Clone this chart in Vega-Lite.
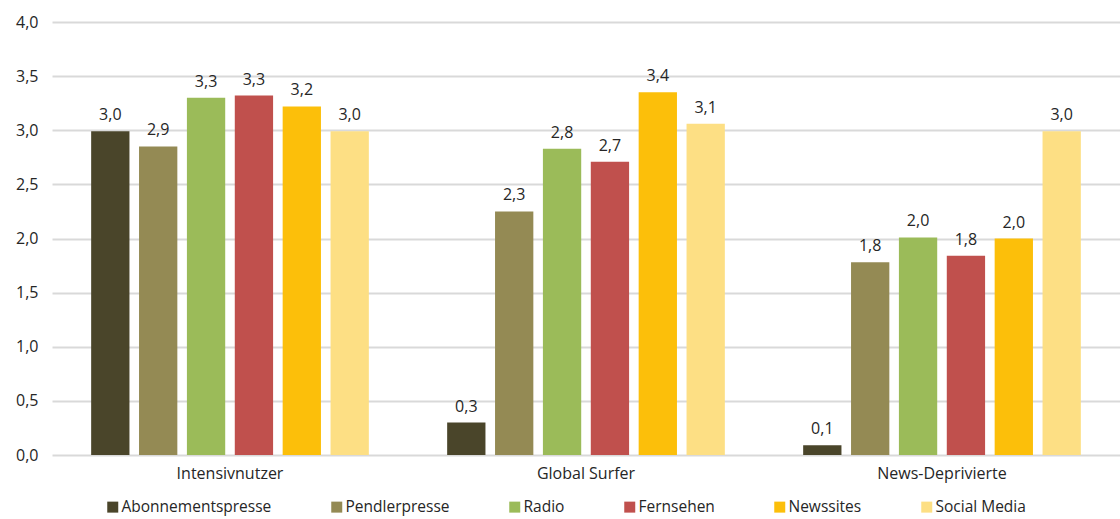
{
  "$schema": "https://vega.github.io/schema/vega-lite/v6.json",
  "width": 1068,
  "height": 433,
  "autosize": {"type": "none"},
  "padding": {"left": 52, "top": 22, "right": 0, "bottom": 64},
  "background": "white",
  "config": {
    "locale": {"number": {"decimal": ",", "thousands": ".", "grouping": [3], "currency": ["", " €"]}},
    "view": {"stroke": null},
    "font": "Open Sans",
    "text": {"font": "Open Sans"}
  },
  "data": {
    "values": [
      {"Gruppe": "Intensivnutzer", "Medium": "Abonnementspresse", "Wert": 2.99},
      {"Gruppe": "Intensivnutzer", "Medium": "Pendlerpresse", "Wert": 2.85},
      {"Gruppe": "Intensivnutzer", "Medium": "Radio", "Wert": 3.3},
      {"Gruppe": "Intensivnutzer", "Medium": "Fernsehen", "Wert": 3.32},
      {"Gruppe": "Intensivnutzer", "Medium": "Newssites", "Wert": 3.22},
      {"Gruppe": "Intensivnutzer", "Medium": "Social Media", "Wert": 2.99},
      {"Gruppe": "Global Surfer", "Medium": "Abonnementspresse", "Wert": 0.3},
      {"Gruppe": "Global Surfer", "Medium": "Pendlerpresse", "Wert": 2.25},
      {"Gruppe": "Global Surfer", "Medium": "Radio", "Wert": 2.83},
      {"Gruppe": "Global Surfer", "Medium": "Fernsehen", "Wert": 2.71},
      {"Gruppe": "Global Surfer", "Medium": "Newssites", "Wert": 3.35},
      {"Gruppe": "Global Surfer", "Medium": "Social Media", "Wert": 3.06},
      {"Gruppe": "News-Deprivierte", "Medium": "Abonnementspresse", "Wert": 0.09},
      {"Gruppe": "News-Deprivierte", "Medium": "Pendlerpresse", "Wert": 1.78},
      {"Gruppe": "News-Deprivierte", "Medium": "Radio", "Wert": 2.01},
      {"Gruppe": "News-Deprivierte", "Medium": "Fernsehen", "Wert": 1.84},
      {"Gruppe": "News-Deprivierte", "Medium": "Newssites", "Wert": 2.0},
      {"Gruppe": "News-Deprivierte", "Medium": "Social Media", "Wert": 2.99}
    ]
  },
  "encoding": {
    "x": {
      "field": "Gruppe", "type": "nominal",
      "sort": ["Intensivnutzer", "Global Surfer", "News-Deprivierte"],
      "scale": {"paddingInner": 0.22, "paddingOuter": 0.11},
      "axis": {"title": null, "labelAngle": 0, "ticks": false, "domain": false, "labelPadding": 10, "labelFontSize": 16, "labelColor": "#262626", "labelFont": "Open Sans"}
    },
    "xOffset": {
      "field": "Medium", "type": "nominal",
      "sort": ["Abonnementspresse", "Pendlerpresse", "Radio", "Fernsehen", "Newssites", "Social Media"],
      "scale": {"paddingInner": 0.2}
    },
    "y": {
      "field": "Wert", "type": "quantitative",
      "scale": {"domain": [0, 4]},
      "axis": {"title": null, "values": [0, 0.5, 1, 1.5, 2, 2.5, 3, 3.5, 4], "format": ".1f", "ticks": false, "domain": false, "gridColor": "#d9d9d9", "gridWidth": 2, "labelPadding": 14, "labelFontSize": 16, "labelColor": "#262626", "labelFont": "Open Sans"}
    }
  },
  "layer": [
    {
      "mark": {"type": "bar"},
      "encoding": {
        "color": {
          "field": "Medium", "type": "nominal",
          "sort": ["Abonnementspresse", "Pendlerpresse", "Radio", "Fernsehen", "Newssites", "Social Media"],
          "scale": {"range": ["#4a452a", "#948a54", "#9bbb59", "#c0504d", "#fcbf0a", "#fddf84"]},
          "legend": {
            "title": null, "orient": "none", "direction": "horizontal", "legendX": 53, "legendY": 477,
            "symbolType": "square", "symbolSize": 121, "symbolStrokeWidth": 0, "symbolOpacity": 1,
            "labelFontSize": 15.5, "labelColor": "#262626", "labelFont": "Open Sans", "labelOffset": 1,
            "columnPadding": 57, "labelLimit": 300
          }
        }
      }
    },
    {
      "mark": {"type": "text", "baseline": "bottom", "dy": -8, "fontSize": 16, "color": "#262626"},
      "encoding": {"text": {"field": "Wert", "type": "quantitative", "format": ".1f"}}
    }
  ]
}
